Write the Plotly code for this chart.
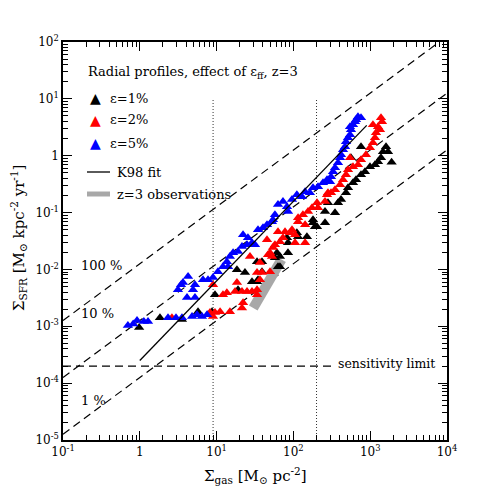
import numpy as np
import plotly.graph_objects as go

# --- data (Sigma_gas [Msun/pc^2], Sigma_SFR [Msun/kpc^2/yr]) ---
blue_x = [0.70, 0.82, 0.92, 1.13, 1.28, 2.33, 2.96, 3.54, 4.79, 5.56, 6.45, 7.5,
          4.12, 5.23, 3.65, 4.25, 4.93, 5.23, 3.14, 3.44, 6.65, 7.73, 8.98, 10.4,
          12.1, 14.1, 13.6, 14.9, 16.4, 19.0, 21.4, 24.9, 28.9, 25.6, 22.1, 31.6,
          34.6, 40.2, 45.3, 52.6, 54.2, 57.5, 63.0, 73.2, 82.5, 85.0, 95.9, 111,
          129, 142, 164, 180, 209, 243, 274, 300, 309, 328, 348, 381, 405, 417,
          443, 470, 484, 514, 546, 562, 597, 634, 653, 693, 759, 546]
blue_y = [0.00103, 0.0011, 0.00126, 0.00121, 0.00121, 0.00142, 0.00142, 0.00142,
          0.00148, 0.0016, 0.00148, 0.0016, 0.0032, 0.0032, 0.0059, 0.0075, 0.0044,
          0.0054, 0.0044, 0.0054, 0.0066, 0.0066, 0.0072, 0.0091, 0.0112, 0.0112,
          0.0137, 0.0168, 0.0197, 0.0206, 0.0252, 0.0273, 0.0296, 0.0362, 0.0409,
          0.0273, 0.05, 0.0543, 0.0613, 0.0692, 0.075, 0.0918, 0.138, 0.156, 0.127,
          0.104, 0.169, 0.206, 0.19, 0.233, 0.224, 0.274, 0.285, 0.335, 0.379,
          0.349, 0.428, 0.524, 0.615, 0.753, 0.92, 1.04, 1.27, 1.44, 1.76, 2.07,
          2.34, 2.86, 3.51, 3.96, 4.29, 4.85, 4.66, 3.23]

red_x = [2.62, 8.2, 8.98, 9.53, 11.1, 14.9, 21.4, 22.1, 8.98, 12.1, 13.6, 17.4,
         21.4, 24.9, 28.9, 33.6, 33.6, 36.7, 33.6, 39.0, 49.6, 18.4, 27.2, 36.7,
         46.7, 52.6, 49.6, 54.2, 57.5, 45.3, 66.8, 73.2, 63.0, 77.8, 90.3, 95.9,
         105, 105, 142, 115, 142, 115, 133, 155, 175, 203, 209, 258, 274, 282,
         309, 348, 405, 443, 484, 514, 597, 693, 759, 546, 881, 993, 1086, 1153,
         1189, 1342, 1265, 1086, 1382, 1425]
red_y = [0.00142, 0.00174, 0.00148, 0.00174, 0.0018, 0.0018, 0.0021, 0.0026,
         0.0054, 0.0036, 0.0039, 0.0041, 0.0041, 0.0041, 0.0041, 0.0036, 0.0044,
         0.0066, 0.0088, 0.0088, 0.0091, 0.0059, 0.0168, 0.0132, 0.0182, 0.0168,
         0.0197, 0.0242, 0.0273, 0.0334, 0.0308, 0.0362, 0.0461, 0.0461, 0.0443,
         0.05, 0.0409, 0.0296, 0.0296, 0.0692, 0.0613, 0.0813, 0.0918, 0.104,
         0.122, 0.149, 0.122, 0.156, 0.206, 0.224, 0.224, 0.253, 0.309, 0.379,
         0.464, 0.568, 0.641, 0.695, 0.85, 0.92, 1.04, 1.38, 1.69, 2.07, 2.54,
         2.86, 3.23, 3.51, 4.66, 3.96]

black_x = [0.98, 1.83, 3.54, 5.73, 7.73, 8.71, 9.53, 19.0, 23.4, 28.9, 18.4, 33.6,
           34.6, 39.0, 33.6, 39.0, 63.0, 66.8, 57.5, 61.1, 66.8, 85.0, 82.5, 85.0,
           111, 115, 180, 191, 258, 150, 180, 258, 203, 282, 348, 381, 417, 484,
           514, 597, 653, 759, 855, 993, 1153, 1265, 1382, 1900, 1468, 1706, 1607,
           759, 562]
black_y = [0.00095, 0.00142, 0.00131, 0.0018, 0.0016, 0.0018, 0.0036, 0.0044,
           0.0088, 0.0061, 0.0099, 0.0061, 0.0066, 0.0091, 0.0137, 0.0137, 0.0112,
           0.0112, 0.0161, 0.0197, 0.0168, 0.0197, 0.0362, 0.0296, 0.0443, 0.0377,
           0.0664, 0.0565, 0.0664, 0.0377, 0.075, 0.104, 0.0565, 0.149, 0.0996,
           0.149, 0.169, 0.224, 0.274, 0.335, 0.379, 0.464, 0.524, 0.641, 0.695,
           0.785, 0.92, 0.77, 1.18, 1.18, 1.44, 1.44, 0.92]

# reference lines
eff_levels = [1.0, 0.1, 0.01]          # 100 %, 10 %, 1 %
eff_norm = 10 ** -1.9                  # Sigma_SFR = eff * norm * Sigma_gas
eff_x = [0.1, 1e4]
k98_x = [1.0, 900.0]
k98_a, k98_n = 2.5e-4, 1.4
obs_x = [30, 70]
obs_y = [2.1e-3, 1.5e-2]
sens_x = [0.1, 310]
sens_y = 2e-4
vlines_x = [9.0, 200.0]
vline_y = [1e-5, 10.0]

FONT = "DejaVu Serif"
OFF = 8  # page body margin (top/left)

fig = go.Figure()

for e in eff_levels:
    fig.add_trace(go.Scatter(
        x=eff_x, y=[e * eff_norm * v for v in eff_x], mode="lines",
        line=dict(color="black", width=1.2, dash="8px,5px"), hoverinfo="skip",
    ))

fig.add_trace(go.Scatter(
    x=sens_x, y=[sens_y, sens_y], mode="lines",
    line=dict(color="black", width=1.2, dash="8px,5px"), hoverinfo="skip",
))

for vx in vlines_x:
    fig.add_trace(go.Scatter(
        x=[vx, vx], y=vline_y, mode="lines",
        line=dict(color="#333333", width=1, dash="1px,2px"), hoverinfo="skip",
    ))

fig.add_trace(go.Scatter(
    x=obs_x, y=obs_y, mode="lines",
    line=dict(color="#a8a8a8", width=10), hoverinfo="skip",
))

for xs, ys, col in [(black_x, black_y, "black"), (red_x, red_y, "#ff0000"),
                    (blue_x, blue_y, "#0000ff")]:
    fig.add_trace(go.Scatter(
        x=xs, y=ys, mode="markers",
        marker=dict(symbol="triangle-up", size=9, color=col, line=dict(width=0)),
    ))

k98_xx = np.logspace(np.log10(k98_x[0]), np.log10(k98_x[1]), 20)
fig.add_trace(go.Scatter(
    x=k98_xx, y=k98_a * k98_xx ** k98_n, mode="lines",
    line=dict(color="black", width=1.3), hoverinfo="skip",
))

def sup(n):
    return "1" if n == 0 else f"10<sup>{n}</sup>"

x_dec = list(range(-1, 5))
y_dec = list(range(-5, 3))
x_minor = [k * 10.0 ** n for n in range(-1, 4) for k in range(2, 10)]
y_minor = [k * 10.0 ** n for n in range(-5, 2) for k in range(2, 10)]

axis_common = dict(
    type="log", showgrid=False, zeroline=False, showline=True, automargin=False,
    linecolor="black", linewidth=1.5, mirror="allticks",
    ticks="inside", ticklen=9, tickwidth=1.2, tickcolor="black",
    tickfont=dict(family=FONT, size=12, color="black"),
)

fig.update_layout(
    width=480, height=480,
    paper_bgcolor="white", plot_bgcolor="white",
    showlegend=False,
    margin=dict(l=63 - OFF, r=41, t=42 - OFF, b=48),
    font=dict(family=FONT, color="black"),
    xaxis=dict(
        **axis_common, range=[-1, 4],
        tickvals=[10.0 ** n for n in x_dec], ticktext=[sup(n) for n in x_dec],
        minor=dict(tickvals=x_minor, ticks="inside", ticklen=5, tickcolor="black"),
    ),
    yaxis=dict(
        **axis_common, range=[-5, 2],
        tickvals=[10.0 ** n for n in y_dec], ticktext=[sup(n) for n in y_dec],
        minor=dict(tickvals=y_minor, ticks="inside", ticklen=5, tickcolor="black"),
    ),
)

def px_x(px):
    return (px - 63) / 384

def px_y(py):
    return (440 - py) / 398

# axis titles
fig.add_annotation(
    text="Σ<sub>gas</sub> [M<sub>⊙</sub> pc<sup>-2</sup>]",
    xref="paper", yref="paper", x=px_x(255), y=px_y(475),
    xanchor="center", yanchor="middle", showarrow=False,
    font=dict(family=FONT, size=15, color="black"),
)
fig.add_annotation(
    text="Σ<sub>SFR</sub> [M<sub>⊙</sub> kpc<sup>-2</sup> yr<sup>-1</sup>]",
    xref="paper", yref="paper", x=px_x(18), y=px_y(238), textangle=-90,
    xanchor="center", yanchor="middle", showarrow=False,
    font=dict(family=FONT, size=15, color="black"),
)

annos = [
    ("Radial profiles, effect of ε<sub>ff</sub>, z=3", 86, 72, 13),
    ("ε=1%", 108, 98, 13),
    ("ε=2%", 108, 120, 13),
    ("ε=5%", 108, 143, 13),
    ("K98 fit", 115, 172, 13),
    ("z=3 observations", 115, 194, 13),
    ("100 %", 79, 265, 13),
    ("10 %", 79, 313, 13),
    ("1 %", 79, 400, 13),
    ("sensitivity limit", 336, 363, 12.5),
]
for text, px, py, sz in annos:
    fig.add_annotation(
        text=text, xref="paper", yref="paper", x=px_x(px), y=px_y(py),
        xanchor="left", yanchor="middle", showarrow=False,
        font=dict(family=FONT, size=sz, color="black"),
    )

for col, py in [("black", 98), ("#ff0000", 120), ("#0000ff", 143)]:
    fig.add_annotation(
        text="▲", xref="paper", yref="paper", x=px_x(95), y=px_y(py),
        xanchor="center", yanchor="middle", showarrow=False,
        font=dict(family="DejaVu Sans", size=14, color=col),
    )

fig.add_shape(type="line", xref="paper", yref="paper",
              x0=px_x(87), x1=px_x(110), y0=px_y(172), y1=px_y(172),
              line=dict(color="black", width=1.3))
fig.add_shape(type="line", xref="paper", yref="paper",
              x0=px_x(87), x1=px_x(110), y0=px_y(194), y1=px_y(194),
              line=dict(color="#a8a8a8", width=5))

fig.write_html("out.html")
